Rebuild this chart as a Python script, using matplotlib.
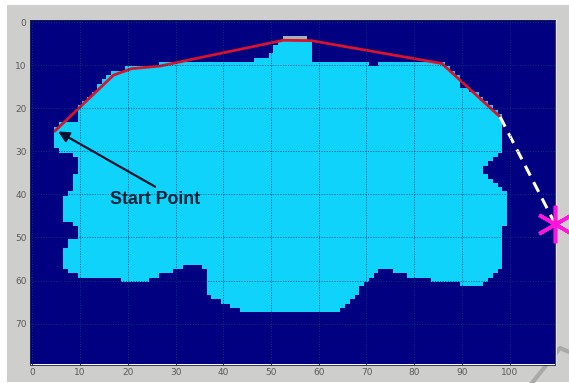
# -*- coding: utf-8 -*-
import numpy as np
import matplotlib
matplotlib.use('Agg')
import matplotlib.pyplot as plt
from matplotlib.colors import ListedColormap
from matplotlib.lines import Line2D
from matplotlib.patches import Rectangle

# ---- data ----------------------------------------------------------------
N_ROWS, N_COLS = 80, 110

# explored area: rows 4..67, first and last cyan column per row
first_row = 4
row_left = ([10]*20 + [5]*6 + [6, 9] + [10]*4 + [9]*4 + [8] + [7]*6 + [9]
            + [10]*3 + [8]*2 + [7]*5 + [8] + [10]*9)
row_right = ([98]*27 + [97, 96, 95, 94, 94, 95, 96, 97, 98] + [99]*8
             + [98]*10 + [97, 96] + [96]*8)

# columns 5..99, top and bottom cyan row per column
first_col = 5
col_top = ([25, 24, 24, 24, 24, 20, 19, 18, 17, 15, 14, 13, 12, 12, 12]
           + [11]*7 + [10]*20 + [9]*3 + [8, 6, 5] + [4]*5 + [5]
           + [10]*12 + [11]*2 + [10]*14
           + [11, 12, 13, 16, 16, 17, 17, 18, 19, 20, 21, 22, 40])
col_bottom = ([29, 30, 57, 58, 58] + [59]*9 + [60]*6 + [59]*2 + [58]*3
              + [57]*2 + [56]*4 + [57, 63] + [64]*2 + [65]*2 + [66]*2
              + [67]*21 + [66, 65, 64, 63, 61, 60, 59, 58] + [57]*3 + [58]*3
              + [59]*5 + [60]*6 + [61]*5 + [60, 59, 58, 57, 47])

# row 4 cells that show grey under the path
grey_row = 4
grey_cols = [53, 54, 55, 56, 57]

# path
path_x = [4.7, 17, 20.8, 26.7, 52.6, 58.5, 85.8, 98]
path_y = [25.3, 12.3, 10.8, 10.2, 4.2, 4.3, 9.6, 22]
goal_leg_x = [98, 109.5]
goal_leg_y = [22, 46.8]
goal_x, goal_y = 109.5, 46.8

x_ticks = [0, 10, 20, 30, 40, 50, 60, 70, 80, 90, 100]
y_ticks = [0, 10, 20, 30, 40, 50, 60, 70]

# ---- grid ----------------------------------------------------------------
grid = np.zeros((N_ROWS, N_COLS))
for i, (lo, hi) in enumerate(zip(row_left, row_right)):
    r = first_row + i
    for c in range(lo, hi + 1):
        k = c - first_col
        if 0 <= k < len(col_top) and col_top[k] <= r <= col_bottom[k]:
            grid[r, c] = 1
for c in grey_cols:
    grid[grey_row, c] = 2

# ---- figure --------------------------------------------------------------
W, H = 569, 383
fig = plt.figure(figsize=(W/100, H/100), dpi=100, facecolor='white')

# grey window behind the axes
fig.add_artist(Rectangle((7/W, 1 - 382/H), (W - 7)/W, 377/H,
                         transform=fig.transFigure, fc='#cececc', ec='none'))
# diagonal stripe bottom right
fig.add_artist(Line2D([532/W, 560/W, 569/W], [0, 1 - 348/H, 1 - 352/H],
                      transform=fig.transFigure, color='#a9a9a7', lw=3))
# pale rim on the right of the axes
fig.add_artist(Line2D([556/W, 556/W], [1 - 365/H, 1 - 20/H],
                      transform=fig.transFigure, color='#dfe2ea', lw=1.5))

ax = fig.add_axes([30/W, 1 - 364.5/H, 525/W, 344.5/H])
ax.set_zorder(5)
cmap = ListedColormap(['#000080', '#0fd3fb', '#a3b2ba'])
ax.imshow(grid, cmap=cmap, vmin=0, vmax=2, aspect='auto',
          interpolation='nearest')

ax.set_xticks(x_ticks)
ax.set_yticks(y_ticks)
ax.tick_params(length=2, width=0.5, direction='in', labelsize=6.5,
               labelcolor='#5a5a5a', color='#101040', pad=2.5)
ax.grid(True, ls=':', lw=0.7, color='#02406a', alpha=0.9)
ax.set_axisbelow(False)
for s in ax.spines.values():
    s.set_linewidth(0.6)
    s.set_color('#20204a')

ax.plot(path_x, path_y, color='#d8132b', lw=2.0, solid_capstyle='round')
ax.plot(goal_leg_x, goal_leg_y, color='white', lw=2.2, dashes=(3.6, 2.4))
ax.plot([goal_x], [goal_y], marker=(6, 2, 0), ms=27, mew=2.6,
        color='#ff14dc', clip_on=False, zorder=6)

ax.annotate('', xy=(5.4, 25.4), xytext=(25.7, 38.2),
            arrowprops=dict(arrowstyle='-|>', color='#06122e', lw=1.6,
                            mutation_scale=16, shrinkA=0, shrinkB=0))
ax.text(16.2, 41.2, 'Start Point', family='Liberation Sans',
        fontweight='bold', fontsize=12.8, color='#062038',
        ha='left', va='center')

fig.savefig('out.png', dpi=100)
